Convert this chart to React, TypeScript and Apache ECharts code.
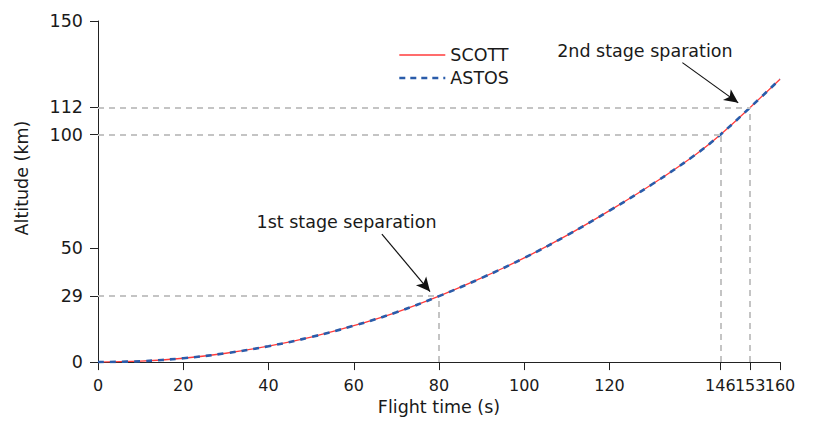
import React, { useEffect, useRef } from "react";
import * as echarts from "echarts";

const times = [0, 10, 20, 30, 40, 50, 60, 70, 80, 90, 100, 110, 120, 130, 140, 146, 153, 160];
const scottAlt = [0, 0.4, 1.7, 3.9, 7.0, 11.0, 16.0, 21.9, 29, 37, 45.8, 55.7, 66.6, 78.2, 91, 100, 112, 124.4];
const astosAlt = [0, 0.4, 1.7, 3.9, 7.0, 11.0, 16.0, 21.9, 29, 37, 45.8, 55.7, 66.6, 78.2, 91, 100, 112, 124.4];

const xTicksMain = [0, 20, 40, 60, 80, 100, 120, 146, 160];
const xTicksExtra = [153];
const yTicks = [0, 29, 50, 100, 112, 150];

// stage separation events: [time, altitude]
const events = [
  [80, 29],
  [146, 100],
  [153, 112],
];

const annotations = [
  { text: "1st stage separation", textAt: [58.3, 61.5], from: [66.6, 56.3], to: [77.9, 31.0] },
  { text: "2nd stage sparation", textAt: [128.3, 136.9], from: [137.1, 131.7], to: [150.2, 114.0] },
];

const FONT = "DejaVu Sans";
const FS = 17.5;
const XFS = 16;
const TXT = "#1a1a1a";

export default function App() {
  const ref = useRef<HTMLDivElement>(null);
  useEffect(() => {
    if (!ref.current) return;
    const chart = echarts.init(ref.current, null, { renderer: "svg" });
    const refLines: any[] = [];
    events.forEach(([t, a]) => {
      refLines.push([{ coord: [0, a] }, { coord: [t, a] }]);
      refLines.push([{ coord: [t, 0] }, { coord: [t, a] }]);
    });
    const xBase = (ticks: number[], showLine: boolean) => ({
      type: "value",
      min: 0,
      max: 160,
      position: "bottom",
      offset: 0,
      splitLine: { show: false },
      axisLine: { show: showLine, onZero: false, lineStyle: { color: "#222", width: 1 } },
      axisTick: { show: true, length: 8, customValues: ticks, lineStyle: { color: "#222" } },
      axisLabel: {
        customValues: ticks,
        showMaxLabel: true,
        showMinLabel: true,
        hideOverlap: false,
        fontFamily: FONT,
        fontSize: XFS,
        color: TXT,
        margin: 15,
      },
    });
    chart.setOption({
      animation: false,
      backgroundColor: "#ffffff",
      textStyle: { fontFamily: FONT },
      grid: { left: 98, right: 35, top: 21, bottom: 55.5 },
      legend: {
        data: [
          { name: "SCOTT", lineStyle: { width: 1.3 } },
          { name: "ASTOS", lineStyle: { width: 2.6, type: [6, 5] } },
        ],
        orient: "vertical",
        left: 393,
        top: 40,
        itemWidth: 46,
        itemHeight: 14,
        itemGap: 3,
        itemStyle: { opacity: 0 },
        textStyle: { fontFamily: FONT, fontSize: FS, color: TXT, lineHeight: 20 },
      },
      xAxis: [
        {
          ...xBase(xTicksMain, true),
          name: "Flight time (s)",
          nameLocation: "middle",
          nameGap: 35,
          nameTextStyle: { fontFamily: FONT, fontSize: FS, color: TXT },
        },
        xBase(xTicksExtra, false),
      ],
      yAxis: {
        type: "value",
        min: 0,
        max: 150,
        splitLine: { show: false },
        axisLine: { show: true, lineStyle: { color: "#222", width: 1 } },
        axisTick: { show: true, length: 8, customValues: yTicks, lineStyle: { color: "#222" } },
        axisLabel: { customValues: yTicks, fontFamily: FONT, fontSize: FS, color: TXT, margin: 15 },
      },
      graphic: [
        {
          type: "text",
          x: 22,
          y: 178,
          rotation: Math.PI / 2,
          style: {
            text: "Altitude (km)",
            font: `${FS}px ${FONT}`,
            fill: TXT,
            align: "center",
            verticalAlign: "middle",
          },
        },
      ],
      series: [
        {
          name: "refs",
          type: "line",
          data: [],
          silent: true,
          markLine: {
            silent: true,
            symbol: ["none", "none"],
            label: { show: false },
            lineStyle: { color: "#c4c4c4", width: 2, type: [6, 5] },
            data: refLines,
          },
        },
        {
          name: "SCOTT",
          type: "line",
          data: times.map((t, i) => [t, scottAlt[i]]),
          smooth: 0.4,
          symbol: "none",
          color: "#ff3b3b",
          lineStyle: { color: "#ff3b3b", width: 1.3 },
        },
        {
          name: "ASTOS",
          type: "line",
          data: times.map((t, i) => [t, astosAlt[i]]),
          smooth: 0.4,
          symbol: "none",
          color: "#2a5caa",
          lineStyle: { color: "#2a5caa", width: 2.6, type: [6, 6] },
        },
        {
          name: "notes",
          type: "line",
          data: [],
          silent: true,
          markLine: {
            silent: true,
            symbol: ["none", "arrow"],
            symbolSize: [10, 14],
            label: { show: false },
            lineStyle: { color: "#111", width: 1.2, type: "solid" },
            data: annotations.map((a) => [{ coord: a.from }, { coord: a.to }]),
          },
          markPoint: {
            silent: true,
            symbol: "circle",
            symbolSize: 0,
            label: {
              show: true,
              position: "inside",
              formatter: (p: any) => p.name,
              fontFamily: FONT,
              fontSize: FS,
              color: TXT,
            },
            data: annotations.map((a) => ({ name: a.text, coord: a.textAt })),
          },
        },
      ],
    });
    return () => chart.dispose();
  }, []);
  return <div ref={ref} style={{ width: 815, height: 421, position: "absolute", left: 0, top: 0 }} />;
}
